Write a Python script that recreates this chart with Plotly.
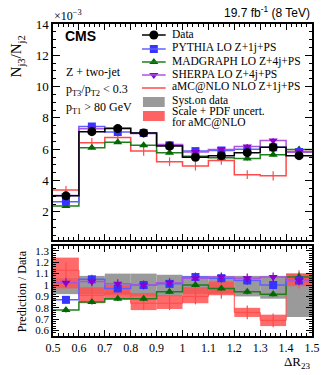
import plotly.graph_objects as go

# ---------------- data ----------------
bin_edges = [0.5, 0.6, 0.7, 0.8, 0.9, 1.0, 1.1, 1.2, 1.3, 1.4, 1.5]
bin_centers = [0.55, 0.65, 0.75, 0.85, 0.95, 1.05, 1.15, 1.25, 1.35, 1.45]
x_tick_vals = [0.5, 0.6, 0.7, 0.8, 0.9, 1.0, 1.1, 1.2, 1.3, 1.4, 1.5]
x_tick_labels = ["0.5", "0.6", "0.7", "0.8", "0.9", "1", "1.1", "1.2", "1.3", "1.4", "1.5"]
y_top_tick_vals = [2, 4, 6, 8, 10, 12, 14]
y_top_tick_labels = ["2", "4", "6", "8", "10", "12", "14"]
y_ratio_tick_vals = [0.6, 0.7, 0.8, 0.9, 1.0, 1.1, 1.2, 1.3]
y_ratio_tick_labels = ["0.6", "0.7", "0.8", "0.9", "1", "1.1", "1.2", "1.3"]

# N_j3/N_j2 in units of 1e-3
data_vals = [3.02, 7.12, 7.32, 7.04, 6.20, 5.49, 5.59, 5.78, 6.12, 5.59]
data_err = [0.10, 0.08, 0.08, 0.08, 0.08, 0.08, 0.08, 0.09, 0.10, 0.10]
pythia_vals = [2.65, 7.45, 7.10, 7.04, 6.25, 5.88, 5.92, 6.00, 6.12, 5.82]
pythia_err = [0.12, 0.15, 0.14, 0.14, 0.13, 0.13, 0.13, 0.14, 0.14, 0.13]
madgraph_vals = [2.38, 6.10, 6.45, 6.25, 5.78, 5.55, 5.45, 5.40, 5.65, 5.98]
madgraph_err = [0.10, 0.12, 0.12, 0.12, 0.12, 0.12, 0.12, 0.12, 0.12, 0.12]
sherpa_vals = [3.05, 7.30, 7.35, 7.00, 6.30, 5.82, 5.98, 6.18, 6.55, 5.80]
sherpa_err = [0.12, 0.15, 0.15, 0.14, 0.14, 0.14, 0.14, 0.15, 0.15, 0.14]
amc_vals = [3.40, 6.42, 6.75, 5.88, 5.20, 4.92, 5.28, 4.37, 4.30, 5.85]
amc_err = [0.25, 0.30, 0.30, 0.30, 0.28, 0.28, 0.28, 0.28, 0.30, 0.30]

# Prediction / Data
ratio_pythia = [0.87, 1.05, 0.97, 1.00, 1.01, 1.07, 1.06, 1.04, 1.00, 1.04]
ratio_pythia_err = [0.03, 0.04, 0.03, 0.03, 0.03, 0.04, 0.04, 0.04, 0.04, 0.04]
ratio_sherpa = [1.02, 1.03, 1.01, 1.00, 1.02, 1.06, 1.07, 1.06, 1.07, 1.04]
ratio_sherpa_err = [0.04, 0.04, 0.04, 0.04, 0.04, 0.04, 0.04, 0.04, 0.04, 0.04]
ratio_madgraph = [0.78, 0.85, 0.88, 0.88, 0.94, 1.00, 0.97, 0.94, 0.92, 1.07]
ratio_madgraph_err = [0.02, 0.02, 0.02, 0.02, 0.02, 0.02, 0.02, 0.02, 0.02, 0.04]
ratio_amc = [1.13, 0.91, 0.93, 0.84, 0.84, 0.90, 0.94, 0.76, 0.69, 1.05]
ratio_amc_err = [0.07, 0.07, 0.06, 0.06, 0.06, 0.07, 0.06, 0.06, 0.06, 0.08]
syst_low = [0.92, 0.92, 0.91, 0.90, 0.90, 0.92, 0.92, 0.90, 0.88, 0.72]
syst_high = [1.06, 1.08, 1.10, 1.10, 1.09, 1.08, 1.08, 1.08, 1.08, 1.10]
scale_low = [0.97, 0.84, 0.87, 0.78, 0.79, 0.84, 0.91, 0.72, 0.64, 0.99]
scale_high = [1.24, 0.98, 1.00, 0.93, 0.91, 0.98, 1.03, 0.80, 0.74, 1.10]

# ---------------- styles ----------------
SERIF = "Liberation Serif"
SANS = "Liberation Sans"
C_DATA = "black"
C_PY_M, C_PY_L = "#3535ff", "#5f5fff"
C_MG_M, C_MG_L = "#006a00", "#1f7f1f"
C_SH_M, C_SH_L = "#8a00cc", "#a855e0"
C_AMC = "#ff4b4b"
C_SYST = "#9a9a9a"
C_SCALE = "rgba(255,80,80,0.85)"

W, H = 332, 375
L, R, T, B = 53, 17, 24, 39
PW, PH = W - L - R, H - T - B


def pxx(px):
    return (px - L) / PW


def pxy(py):
    return (H - B - py) / PH


def step_y(vals):
    return list(vals) + [vals[-1]]


fig = go.Figure()


def add_model(vals, errs, xa, ya, mcol, lcol, symbol, size, filled=True, lw=1.5):
    fig.add_trace(go.Scatter(x=bin_edges, y=step_y(vals), mode="lines", line_shape="hv",
                             line=dict(color=lcol, width=lw), xaxis=xa, yaxis=ya,
                             showlegend=False, hoverinfo="skip"))
    fig.add_trace(go.Scatter(x=bin_centers, y=vals, mode="markers", xaxis=xa, yaxis=ya,
                             marker=dict(symbol=symbol, size=size,
                                         color=mcol if filled else "rgba(0,0,0,0)",
                                         line=dict(color=mcol, width=1.2 if not filled else 0)),
                             error_y=dict(type="data", array=errs, color=mcol, thickness=1.2, width=0),
                             showlegend=False))


# ---------- top panel ----------
add_model(amc_vals, amc_err, "x", "y", C_AMC, C_AMC, "square-open", 8, filled=False)
add_model(madgraph_vals, madgraph_err, "x", "y", C_MG_M, C_MG_L, "triangle-up", 8)
add_model(pythia_vals, pythia_err, "x", "y", C_PY_M, C_PY_L, "square", 8)
add_model(sherpa_vals, sherpa_err, "x", "y", C_SH_M, C_SH_L, "triangle-down", 8)
add_model(data_vals, data_err, "x", "y", C_DATA, C_DATA, "circle", 9)

# ---------- ratio panel ----------
fig.add_trace(go.Bar(x=bin_centers, y=[h - l for h, l in zip(syst_high, syst_low)], base=syst_low,
                     width=0.1, marker=dict(color=C_SYST, line=dict(width=0)),
                     xaxis="x2", yaxis="y2", showlegend=False, hoverinfo="skip"))
fig.add_trace(go.Bar(x=bin_centers, y=[h - l for h, l in zip(scale_high, scale_low)], base=scale_low,
                     width=0.1, marker=dict(color=C_SCALE, line=dict(width=0)),
                     xaxis="x2", yaxis="y2", showlegend=False, hoverinfo="skip"))
add_model(ratio_amc, ratio_amc_err, "x2", "y2", C_AMC, C_AMC, "square-open", 8, filled=False, lw=1.0)
add_model(ratio_madgraph, ratio_madgraph_err, "x2", "y2", C_MG_M, C_MG_L, "triangle-up", 8)
add_model(ratio_pythia, ratio_pythia_err, "x2", "y2", C_PY_M, C_PY_L, "square", 8)
add_model(ratio_sherpa, ratio_sherpa_err, "x2", "y2", C_SH_M, C_SH_L, "triangle-down", 8)

# ---------- legend (manual) ----------
leg_names = ["Data", "PYTHIA LO Z+1j+PS", "MADGRAPH LO Z+4j+PS", "SHERPA LO Z+4j+PS",
             "aMC@NLO NLO Z+1j+PS"]
leg_rows = [35, 49, 62, 75, 88]
leg_cols = [(C_DATA, C_DATA, "circle", 9, True), (C_PY_M, C_PY_L, "square", 8, True),
            (C_MG_M, C_MG_L, "triangle-up", 8, True), (C_SH_M, C_SH_L, "triangle-down", 8, True),
            (C_AMC, C_AMC, "square-open", 8, False)]
LEG_FONT = dict(family=SERIF, size=11.5, color="black")
shapes = []
annotations = []
for name, row, (mc, lc, sym, sz, filled) in zip(leg_names, leg_rows, leg_cols):
    shapes.append(dict(type="line", xref="paper", yref="paper", x0=pxx(143), x1=pxx(167),
                       y0=pxy(row), y1=pxy(row), line=dict(color=lc, width=1.5)))
    fig.add_trace(go.Scatter(x=[pxx(155)], y=[pxy(row)], mode="markers", xaxis="x3", yaxis="y3",
                             marker=dict(symbol=sym, size=sz, color=mc if filled else "white",
                                         line=dict(color=mc, width=1.2 if not filled else 0)),
                             showlegend=False, hoverinfo="skip"))
    annotations.append(dict(text=name, x=pxx(171), y=pxy(row - 1), xanchor="left", yanchor="middle",
                            font=LEG_FONT))
shapes.append(dict(type="rect", xref="paper", yref="paper", x0=pxx(144), x1=pxx(166),
                   y0=pxy(107), y1=pxy(97), fillcolor=C_SYST, line=dict(width=0)))
shapes.append(dict(type="rect", xref="paper", yref="paper", x0=pxx(144), x1=pxx(166),
                   y0=pxy(121), y1=pxy(111), fillcolor="#ff6262", line=dict(width=0)))
for txt, row in [("Syst.on data", 100), ("Scale + PDF uncert.", 110.5), ("for aMC@NLO", 122.5)]:
    annotations.append(dict(text=txt, x=pxx(171), y=pxy(row), xanchor="left",
                            yanchor="middle", font=LEG_FONT))

# ---------- texts ----------
annotations += [
    dict(text="<b>CMS</b>", x=pxx(63), y=pxy(36), xanchor="left", yanchor="middle",
         font=dict(family=SANS, size=14, color="black")),
    dict(text="19.7 fb<sup>-1</sup> (8 TeV)", x=pxx(315), y=pxy(12), xanchor="right", yanchor="middle",
         font=dict(family=SANS, size=12, color="black")),
    dict(text="×10<sup>−3</sup>", x=pxx(52), y=pxy(15), xanchor="left", yanchor="middle",
         font=dict(family=SERIF, size=12, color="black")),
    dict(text="Z + two-jet", x=pxx(64), y=pxy(72), xanchor="left", yanchor="middle",
         font=dict(family=SERIF, size=12, color="black")),
    dict(text="p<sub>T3</sub>/p<sub>T2</sub> < 0.3", x=pxx(64), y=pxy(90), xanchor="left", yanchor="middle",
         font=dict(family=SERIF, size=12, color="black")),
    dict(text="p<sub>T1</sub> > 80 GeV", x=pxx(64), y=pxy(108), xanchor="left", yanchor="middle",
         font=dict(family=SERIF, size=12, color="black")),
    dict(text="N<sub>j3</sub>/N<sub>j2</sub>", x=pxx(17), y=pxy(56), xanchor="center", yanchor="middle",
         textangle=-90, font=dict(family=SERIF, size=15, color="black")),
    dict(text="Prediction / Data", x=pxx(22), y=pxy(291), xanchor="center", yanchor="middle",
         textangle=-90, font=dict(family=SERIF, size=12, color="black")),
    dict(text="ΔR<sub>23</sub>", x=pxx(316), y=pxy(362), xanchor="right", yanchor="middle",
         font=dict(family=SERIF, size=13, color="black")),
]
for a in annotations:
    a.setdefault("xref", "paper")
    a.setdefault("yref", "paper")
    a.setdefault("showarrow", False)

top_dom = [pxy(240), 1.0]
bot_dom = [0.0, pxy(246)]

axis_common = dict(showline=True, linecolor="black", linewidth=1.5, mirror="allticks",
                   ticks="inside", tickcolor="black", showgrid=False, zeroline=False,
                   tickfont=dict(family=SERIF, size=12, color="black"))

fig.update_layout(
    width=W, height=H, margin=dict(l=L, r=R, t=T, b=B),
    paper_bgcolor="white", plot_bgcolor="rgba(0,0,0,0)",
    barmode="overlay", showlegend=False,
    shapes=shapes, annotations=annotations,
    xaxis=dict(domain=[0, 1], anchor="y", range=[0.5, 1.5], tickvals=x_tick_vals,
               ticktext=x_tick_labels, showticklabels=False, ticklen=6,
               minor=dict(ticks="inside", dtick=0.02, ticklen=3, tickcolor="black"), **axis_common),
    yaxis=dict(domain=top_dom, anchor="x", range=[0.2, 14], tickvals=y_top_tick_vals,
               ticktext=y_top_tick_labels, ticklen=7,
               minor=dict(ticks="inside", dtick=0.5, ticklen=3, tickcolor="black"),
               **{**axis_common, "tickfont": dict(family=SERIF, size=13, color="black")}),
    xaxis2=dict(domain=[0, 1], anchor="y2", range=[0.5, 1.5], tickvals=x_tick_vals,
                ticktext=x_tick_labels, ticklen=6,
                minor=dict(ticks="inside", dtick=0.02, ticklen=3, tickcolor="black"), **axis_common),
    yaxis2=dict(domain=bot_dom, anchor="x2", range=[0.553, 1.342], tickvals=y_ratio_tick_vals,
                ticktext=y_ratio_tick_labels, ticklen=6,
                minor=dict(ticks="inside", dtick=0.02, ticklen=3, tickcolor="black"),
                **{**axis_common, "tickfont": dict(family=SERIF, size=11, color="black")}),
    xaxis3=dict(domain=[0, 1], anchor="y3", range=[0, 1], visible=False),
    yaxis3=dict(domain=[0, 1], anchor="x3", range=[0, 1], visible=False),
)

fig.write_html("out.html", config={"displayModeBar": False},
               post_script="document.body.style.margin='0';")
